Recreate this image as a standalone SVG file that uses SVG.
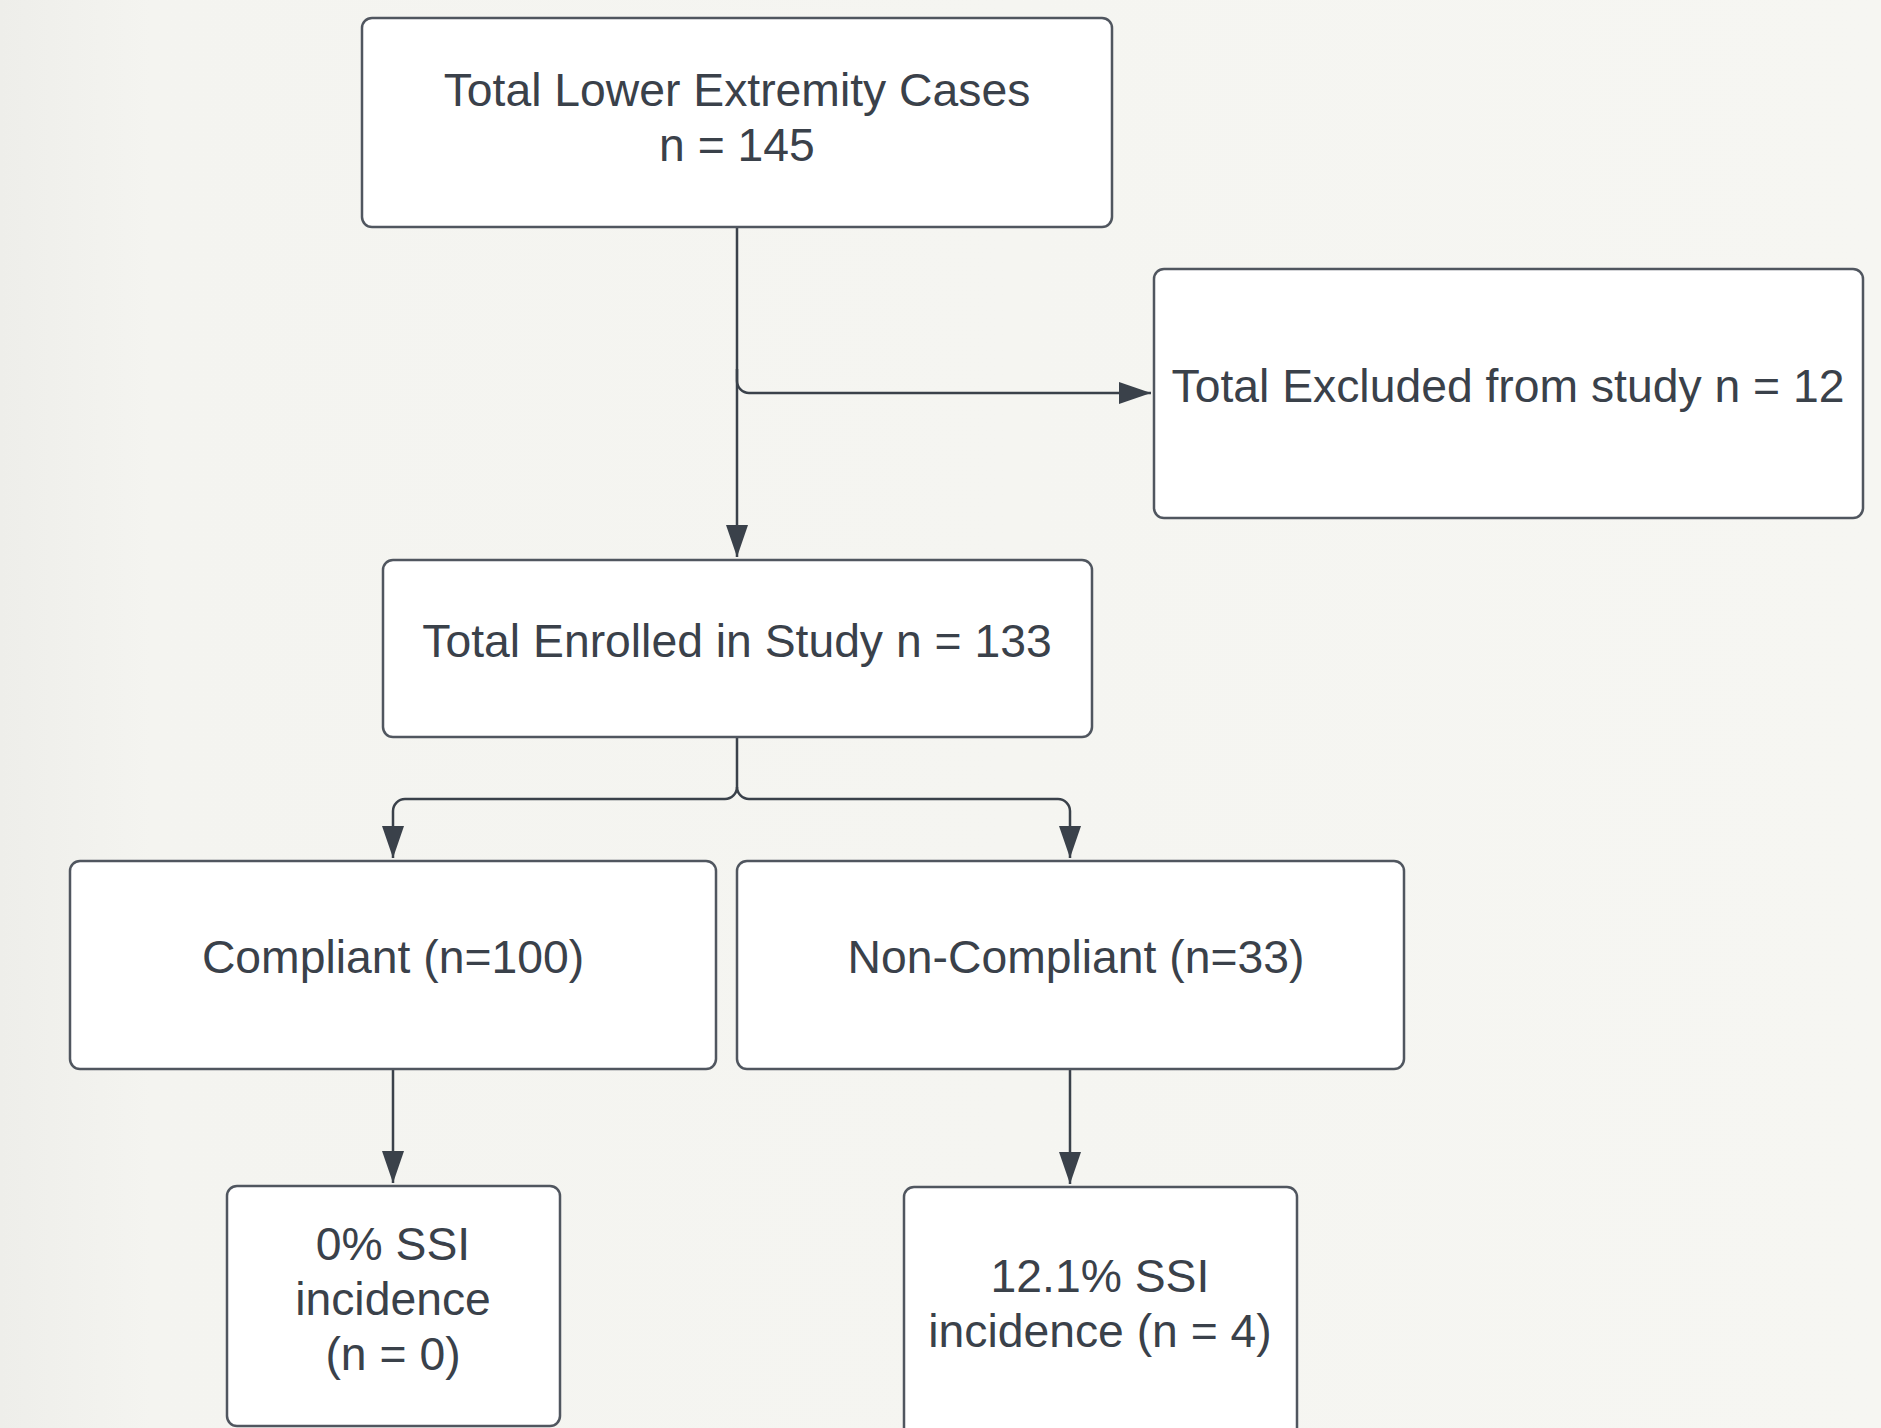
<svg xmlns="http://www.w3.org/2000/svg" width="1881" height="1428" viewBox="0 0 1881 1428">
<style>
.box{fill:#ffffff;stroke:#50565f;stroke-width:2.5}
.t{font-family:"Liberation Sans",Arial,sans-serif;font-size:46.3px;fill:#3a414a;text-anchor:middle}
.c{fill:none;stroke:#3a414a;stroke-width:2.5}
</style>
<defs>
<linearGradient id="bg" x1="0" y1="0" x2="1" y2="0">
<stop offset="0" stop-color="#eeeeea"/>
<stop offset="0.08" stop-color="#f4f4f0"/>
<stop offset="1" stop-color="#f6f6f2"/>
</linearGradient>
<marker id="ah" markerUnits="userSpaceOnUse" markerWidth="32" markerHeight="22" refX="32" refY="11" orient="auto">
<path d="M0,0 L32,11 L0,22 Z" fill="#3a414a"/>
</marker>
</defs>
<rect x="0" y="0" width="1881" height="1428" fill="url(#bg)"/>
<g id="connectors">
<path class="c" d="M737,227 V557" marker-end="url(#ah)"/>
<path class="c" d="M737,369 V381 A12,12 0 0 0 749,393 H1151" marker-end="url(#ah)"/>
<path class="c" d="M737,737 V787 A12,12 0 0 1 725,799 H405 A12,12 0 0 0 393,811 V858" marker-end="url(#ah)"/>
<path class="c" d="M737,787 A12,12 0 0 0 749,799 H1058 A12,12 0 0 1 1070,811 V858" marker-end="url(#ah)"/>
<path class="c" d="M393,1069 V1183" marker-end="url(#ah)"/>
<path class="c" d="M1070,1069 V1184" marker-end="url(#ah)"/>
</g>
<g id="total">
<rect class="box" x="362" y="18" width="750" height="209" rx="10"/>
<text class="t" x="737" y="106">Total Lower Extremity Cases</text>
<text class="t" x="737" y="161">n = 145</text>
</g>
<g id="excluded">
<rect class="box" x="1154" y="269" width="709" height="249" rx="10"/>
<text class="t" x="1508" y="402">Total Excluded from study n = 12</text>
</g>
<g id="enrolled">
<rect class="box" x="383" y="560" width="709" height="177" rx="10"/>
<text class="t" x="737" y="657">Total Enrolled in Study n = 133</text>
</g>
<g id="compliant">
<rect class="box" x="70" y="861" width="646" height="208" rx="10"/>
<text class="t" x="393" y="973">Compliant (n=100)</text>
</g>
<g id="noncompliant">
<rect class="box" x="737" y="861" width="667" height="208" rx="10"/>
<text class="t" x="1076" y="973">Non-Compliant (n=33)</text>
</g>
<g id="ssi0">
<rect class="box" x="227" y="1186" width="333" height="240" rx="10"/>
<text class="t" x="393" y="1260">0% SSI</text>
<text class="t" x="393" y="1315">incidence</text>
<text class="t" x="393" y="1370">(n = 0)</text>
</g>
<g id="ssi121">
<rect class="box" x="904" y="1187" width="393" height="260" rx="10"/>
<text class="t" x="1100" y="1292">12.1% SSI</text>
<text class="t" x="1100" y="1347">incidence (n = 4)</text>
</g>
</svg>
